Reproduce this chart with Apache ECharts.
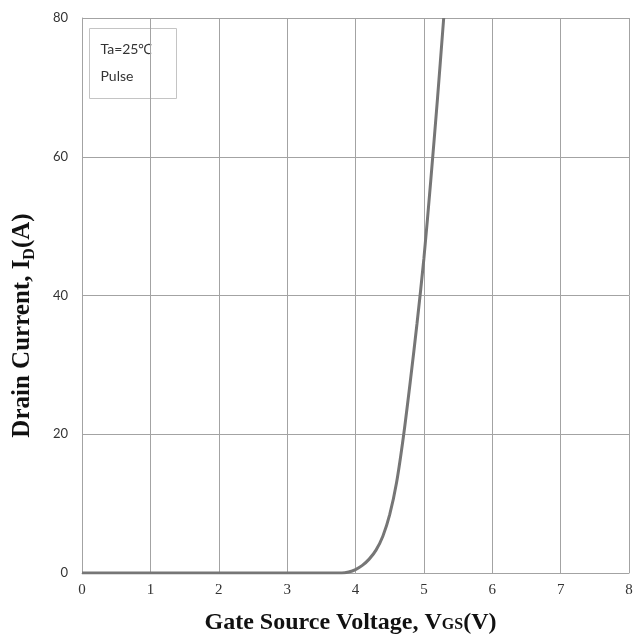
<!DOCTYPE html>
<html>
<head>
<meta charset="utf-8">
<script src="https://cdn.jsdelivr.net/npm/echarts@6/dist/echarts.min.js"></script>
<style>
  html, body { margin: 0; padding: 0; background: #fff; }
  #chart { width: 642px; height: 639px; }
</style>
</head>
<body>
<div id="chart"></div>
<script>
// Transfer characteristic: drain current vs gate-source voltage
const vgs = [0, 1, 2, 3, 3.5, 3.8, 3.9, 4.0, 4.1, 4.2, 4.3, 4.4, 4.5, 4.6, 4.7, 4.8, 4.9, 5.0, 5.1, 5.2, 5.29];
const idA = [0, 0, 0, 0, 0, 0, 0.15, 0.5, 1.1, 2.0, 3.3, 5.3, 8.4, 13.0, 19.6, 27.5, 36, 45.3, 56.5, 68.5, 80];
const xTicks = [0, 1, 2, 3, 4, 5, 6, 7, 8];
const yTicks = [0, 20, 40, 60, 80];
const noteLines = ['Ta=25\u2103', 'Pulse'];

const gridColor = '#a3a3a3';
const chart = echarts.init(document.getElementById('chart'));

chart.setOption({
  animation: false,
  backgroundColor: '#fff',
  grid: { left: 82, right: 13, top: 18, bottom: 66, outerBoundsMode: 'none' },
  xAxis: {
    type: 'value',
    min: xTicks[0],
    max: xTicks[xTicks.length - 1],
    interval: 1,
    axisLine: { show: true, lineStyle: { color: gridColor, width: 1 } },
    axisTick: { show: false },
    axisLabel: {
      margin: 10,
      fontFamily: 'Liberation Serif',
      fontSize: 15,
      color: '#333'
    },
    splitLine: { show: true, lineStyle: { color: gridColor, width: 1 } },
    name: '{a|Gate Source Voltage, V}{s|GS}{a|(V)}',
    nameLocation: 'middle',
    nameGap: 38,
    nameTextStyle: {
      padding: [0, 10, 0, 0],
      rich: {
        a: { fontFamily: 'Liberation Serif', fontWeight: 'bold', fontSize: 24, color: '#111' },
        s: { fontFamily: 'Liberation Serif', fontWeight: 'bold', fontSize: 16, color: '#111', verticalAlign: 'bottom', padding: [0, 0, 2, 0] }
      }
    }
  },
  yAxis: {
    type: 'value',
    min: yTicks[0],
    max: yTicks[yTicks.length - 1],
    interval: 20,
    axisLine: { show: true, lineStyle: { color: gridColor, width: 1 } },
    axisTick: { show: false },
    axisLabel: {
      margin: 14,
      fontFamily: 'Lato',
      fontSize: 13,
      color: '#333'
    },
    splitLine: { show: true, lineStyle: { color: gridColor, width: 1 } },
    name: '{a|Drain Current, I}{s|D}{a|(A)}',
    nameLocation: 'middle',
    nameGap: 47,
    nameRotate: 90,
    nameTextStyle: {
      padding: [0, 60, 0, 0],
      rich: {
        a: { fontFamily: 'Liberation Serif', fontWeight: 'bold', fontSize: 25, color: '#111' },
        s: { fontFamily: 'Liberation Serif', fontWeight: 'bold', fontSize: 16, color: '#111', verticalAlign: 'bottom', padding: [0, 0, -3, 0] }
      }
    }
  },
  graphic: [
    {
      type: 'group',
      left: 89,
      top: 28,
      children: [
        {
          type: 'rect',
          shape: { x: 0, y: 0, width: 87, height: 70 },
          style: { fill: '#fff', stroke: '#c4c4c4', lineWidth: 1 }
        },
        {
          type: 'text',
          x: 11,
          y: 14,
          style: { text: noteLines[0], font: '14px Lato', fill: '#333' }
        },
        {
          type: 'text',
          x: 11,
          y: 41,
          style: { text: noteLines[1], font: '14px Lato', fill: '#333' }
        }
      ]
    }
  ],
  series: [
    {
      type: 'line',
      data: vgs.map((v, i) => [v, idA[i]]),
      smooth: 0.3,
      showSymbol: false,
      lineStyle: { color: '#767676', width: 3 },
      clip: true
    }
  ]
});
</script>
</body>
</html>
